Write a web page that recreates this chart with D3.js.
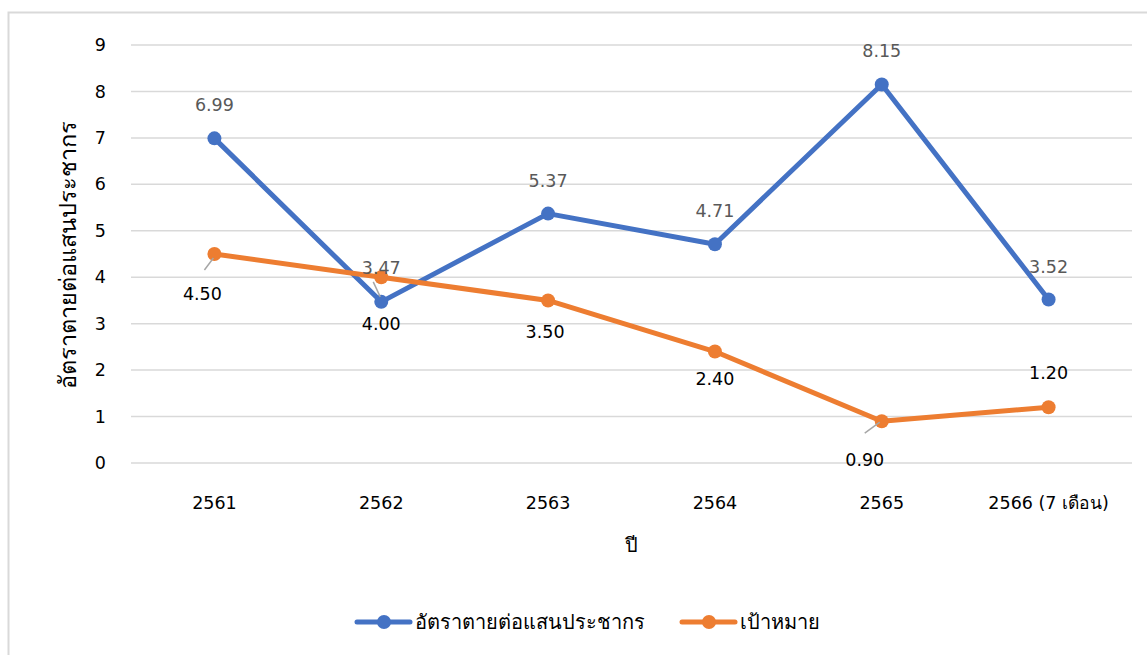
<!DOCTYPE html>
<html>
<head>
<meta charset="utf-8">
<script src="https://cdn.jsdelivr.net/npm/d3@7/dist/d3.min.js"></script>
<style>
  body { margin: 0; background: #fff; }
  svg { display: block; font-family: "DejaVu Sans", "Noto Sans", sans-serif; }
</style>
</head>
<body>
<svg id="chart" width="1147" height="655"></svg>
<script>
// data
const years = ['2561', '2562', '2563', '2564', '2565', '2566 (7 เดือน)'];
const deathRate = [6.99, 3.47, 5.37, 4.71, 8.15, 3.52];
const target = [4.50, 4.00, 3.50, 2.40, 0.90, 1.20];
const yTicks = [0, 1, 2, 3, 4, 5, 6, 7, 8, 9];
const seriesNames = ['อัตราตายต่อแสนประชากร', 'เป้าหมาย'];

const svg = d3.select('#chart');
const W = 1147, H = 655;
const m = { left: 131, right: 15, top: 45, bottom: 192 };

// chart frame
svg.append('rect')
  .attr('x', 8.5).attr('y', 12.5)
  .attr('width', W).attr('height', H)
  .attr('fill', '#fff').attr('stroke', '#d9d9d9').attr('stroke-width', 2);

const x = d3.scaleBand().domain(years).range([m.left, W - m.right]);
const y = d3.scaleLinear().domain([0, 9]).range([H - m.bottom, m.top]);
const cx = d => x(d) + x.bandwidth() / 2;

// gridlines
svg.append('g')
  .selectAll('line')
  .data(yTicks)
  .enter().append('line')
  .attr('x1', m.left).attr('x2', W - m.right)
  .attr('y1', d => y(d)).attr('y2', d => y(d))
  .attr('stroke', '#d9d9d9').attr('stroke-width', 1.5);

// y axis labels
const yAxis = svg.append('g')
  .attr('transform', `translate(${m.left - 25},0)`)
  .call(d3.axisLeft(y).tickValues(yTicks).tickSize(0).tickPadding(0));
yAxis.select('.domain').remove();
yAxis.selectAll('text')
  .attr('font-size', 17.5).attr('fill', '#000')
  .attr('font-family', '"DejaVu Sans", sans-serif');

// x axis labels
const xAxis = svg.append('g')
  .attr('transform', `translate(0,${y(0) + 34})`)
  .call(d3.axisBottom(x).tickSize(0).tickPadding(0));
xAxis.select('.domain').remove();
xAxis.selectAll('text')
  .attr('font-size', 17.5).attr('fill', '#000')
  .attr('font-family', '"DejaVu Sans", sans-serif');

// axis titles
svg.append('text')
  .attr('transform', `translate(68,255) rotate(-90)`)
  .attr('text-anchor', 'middle')
  .attr('dy', '0.35em')
  .attr('font-size', 23.5).attr('fill', '#000')
  .text(seriesNames[0]);

svg.append('text')
  .attr('x', 631).attr('y', 552)
  .attr('text-anchor', 'middle')
  .attr('font-size', 20).attr('fill', '#000')
  .text('ปี');

// series lines
const line = d3.line().x((d, i) => cx(years[i])).y(d => y(d));

function drawSeries(vals, color) {
  svg.append('path')
    .datum(vals)
    .attr('d', line)
    .attr('fill', 'none')
    .attr('stroke', color)
    .attr('stroke-width', 5)
    .attr('stroke-linejoin', 'round')
    .attr('stroke-linecap', 'round');
  svg.append('g')
    .selectAll('circle')
    .data(vals)
    .enter().append('circle')
    .attr('cx', (d, i) => cx(years[i]))
    .attr('cy', d => y(d))
    .attr('r', 7)
    .attr('fill', color);
}

const blue = '#4472c4', orange = '#ed7d31';
drawSeries(deathRate, blue);
drawSeries(target, orange);

// leader lines for moved labels
const leader = (xi, v, dx1, dy1, dx2, dy2) => {
  svg.append('line')
    .attr('x1', cx(years[xi]) + dx1).attr('y1', y(v) + dy1)
    .attr('x2', cx(years[xi]) + dx2).attr('y2', y(v) + dy2)
    .attr('stroke', '#a6a6a6').attr('stroke-width', 1.5);
};
leader(0, target[0], -1, 4, -10, 16);
leader(1, deathRate[1], -1, -5, -8, -20);
leader(4, target[4], -2, 1, -17, 12);

// data labels (center offsets from the point)
const blueOffsets = [[0, -33], [0, -34], [0, -33], [0, -33], [0, -34], [0, -33]];
const orangeOffsets = [[-12, 40], [0, 47], [-3, 31], [0, 27], [-17, 39], [0, -34]];

svg.append('g')
  .selectAll('text')
  .data(deathRate)
  .enter().append('text')
  .attr('x', (d, i) => cx(years[i]) + blueOffsets[i][0])
  .attr('y', (d, i) => y(d) + blueOffsets[i][1])
  .attr('dy', '0.35em')
  .attr('text-anchor', 'middle')
  .attr('font-size', 17.5).attr('fill', '#595959')
  .text(d => d.toFixed(2));

svg.append('g')
  .selectAll('text')
  .data(target)
  .enter().append('text')
  .attr('x', (d, i) => cx(years[i]) + orangeOffsets[i][0])
  .attr('y', (d, i) => y(d) + orangeOffsets[i][1])
  .attr('dy', '0.35em')
  .attr('text-anchor', 'middle')
  .attr('font-size', 17.5).attr('fill', '#000')
  .text(d => d.toFixed(2));

// legend
const legend = svg.append('g').attr('transform', 'translate(0,622)');
const legendItems = [
  { name: seriesNames[0], color: blue, x: 357 },
  { name: seriesNames[1], color: orange, x: 682 }
];
legendItems.forEach(it => {
  legend.append('line')
    .attr('x1', it.x).attr('x2', it.x + 53)
    .attr('stroke', it.color).attr('stroke-width', 5)
    .attr('stroke-linecap', 'round');
  legend.append('circle')
    .attr('cx', it.x + 27).attr('r', 7).attr('fill', it.color);
  legend.append('text')
    .attr('x', it.x + 58).attr('dy', '0.35em')
    .attr('font-size', 20).attr('fill', '#000')
    .text(it.name);
});
</script>
</body>
</html>
